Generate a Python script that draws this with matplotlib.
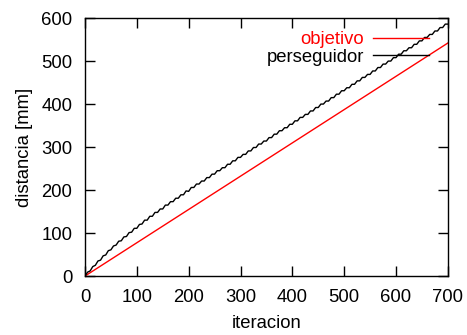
"""
distancia recorrida por objetivo y perseguidor
"""

import numpy as np
import matplotlib
matplotlib.use("Agg")
import matplotlib.pyplot as plt

plt.rcParams['font.family'] = ['Liberation Sans', 'DejaVu Sans']

# objetivo: recta desde el origen
iter_obj = [0, 700]
dist_obj = [0, 542]

# perseguidor: muestreado cada 5 iteraciones
iter_per = list(range(0, 705, 5))
dist_per = [
    0, 9, 12, 22, 25, 35, 37, 47, 49, 59, 61, 70, 72, 81, 82, 91, 92, 101, 102, 111,
    111, 120, 121, 130, 130, 139, 139, 148, 148, 156, 156, 165, 165, 173, 173, 181, 181, 189, 189, 198,
    197, 206, 206, 214, 214, 221, 221, 229, 229, 237, 237, 245, 245, 252, 252, 260, 260, 268, 268, 276,
    276, 283, 283, 291, 291, 299, 299, 307, 307, 314, 314, 322, 322, 330, 330, 338, 338, 345, 345, 353,
    353, 361, 361, 369, 369, 376, 376, 384, 384, 392, 392, 400, 400, 407, 407, 415, 415, 423, 423, 431,
    431, 438, 438, 446, 446, 454, 454, 462, 462, 469, 469, 477, 477, 485, 485, 493, 493, 500, 500, 508,
    508, 516, 516, 524, 524, 531, 531, 539, 539, 547, 547, 555, 555, 562, 562, 570, 570, 578, 578, 586,
    586,
]

xticks = [0, 100, 200, 300, 400, 500, 600, 700]
yticks = [0, 100, 200, 300, 400, 500, 600]

FS = 13.3

fig = plt.figure(figsize=(4.67, 3.35), dpi=100)
ax = fig.add_axes([0.182, 0.176, 0.777, 0.770])

ax.plot(iter_obj, dist_obj, color='#ff0000', lw=1.0, label='objetivo')
ax.plot(iter_per, dist_per, color='black', lw=1.0, label='perseguidor')

ax.set_xlim(0, 700)
ax.set_ylim(0, 600)
ax.set_xticks(xticks)
ax.set_yticks(yticks)
ax.tick_params(direction='in', length=7, width=1, top=True, right=True,
               labelsize=FS)
ax.tick_params(axis='x', pad=9)
ax.tick_params(axis='y', pad=9)
for s in ax.spines.values():
    s.set_linewidth(1.0)

ax.set_xlabel('iteracion', fontsize=FS, labelpad=7)
ax.set_ylabel('distancia [mm]', fontsize=FS, labelpad=6)

leg = ax.legend(loc='upper right', bbox_to_anchor=(0.947, 0.95), frameon=False,
                markerfirst=False, handlelength=3.0, handletextpad=0.48,
                labelspacing=0.05, borderpad=0, borderaxespad=0,
                fontsize=FS, labelcolor='linecolor')

fig.savefig('out.png', dpi=100)
